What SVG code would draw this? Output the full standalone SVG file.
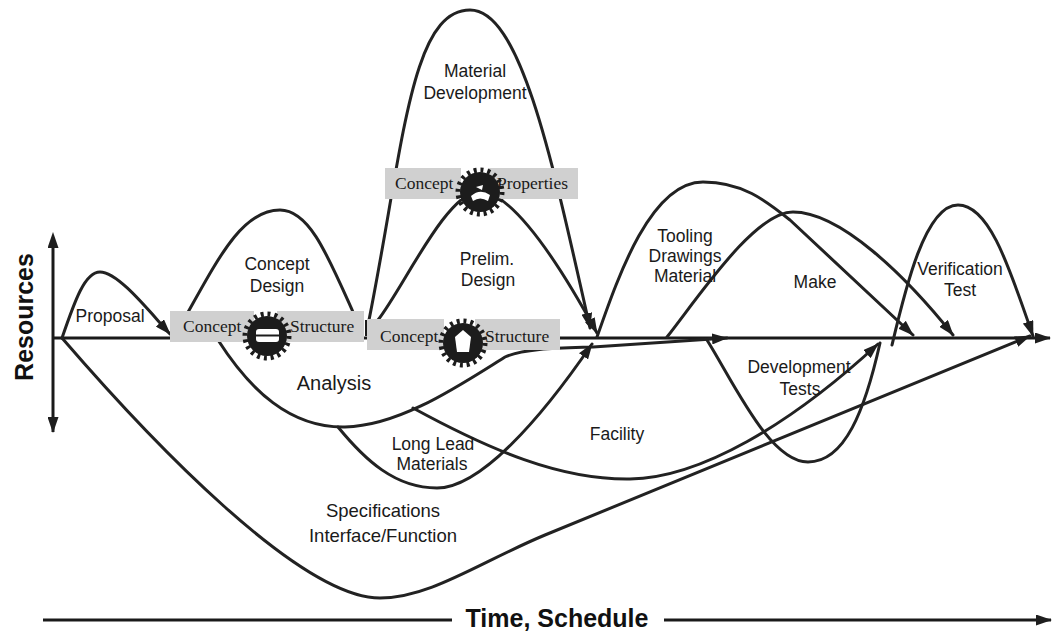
<svg xmlns="http://www.w3.org/2000/svg" xmlns:xlink="http://www.w3.org/1999/xlink" width="1052" height="631" viewBox="0 0 1052 631">
<style>
.c{fill:none;stroke:#222;stroke-width:3;stroke-linecap:round;stroke-linejoin:round}
.ln{fill:none;stroke:#1a1a1a;stroke-width:3}
.lbl{font-family:"Liberation Sans",Arial,sans-serif;font-size:17.5px;fill:#1a1a1a;text-anchor:middle}
.box{fill:#d0d0d0}
.bt{font-family:"Liberation Serif","Times New Roman",serif;font-size:17.5px;fill:#1a1a1a}
.ax{font-family:"Liberation Sans",Arial,sans-serif;font-weight:bold;font-size:25px;fill:#111;text-anchor:middle}
.gin{fill:#fff}
</style>
<defs>
<marker id="ah" viewBox="0 0 16 11" refX="15" refY="5.5" markerWidth="16" markerHeight="11" orient="auto" markerUnits="userSpaceOnUse">
<path d="M0,0 L16,5.5 L0,11 z" fill="#1e1e1e"/>
</marker>
<marker id="ahs" viewBox="0 0 16 11" refX="1" refY="5.5" markerWidth="16" markerHeight="11" orient="auto-start-reverse" markerUnits="userSpaceOnUse">
<path d="M0,0 L16,5.5 L0,11 z" fill="#1e1e1e"/>
</marker>
<g id="gear">
<circle r="20" fill="#1c1c1c"/>
<circle r="22" fill="none" stroke="#1c1c1c" stroke-width="5" stroke-dasharray="3 3.9"/>
</g>
</defs>
<rect width="1052" height="631" fill="#fff"/>

<g id="axes">
<line class="ln" x1="53" y1="247" x2="53" y2="432" marker-start="url(#ahs)" marker-end="url(#ah)"/>
<line class="ln" x1="53" y1="338" x2="1050" y2="338" marker-end="url(#ah)"/>
<text class="ax" transform="translate(33,317) rotate(-90)">Resources</text>
<line class="ln" x1="43" y1="620" x2="452" y2="620"/>
<line class="ln" x1="664" y1="620" x2="1051" y2="620" marker-end="url(#ah)"/>
<text class="ax" x="557" y="627">Time, Schedule</text>
</g>

<g id="connectors">
<path class="c" d="M62,338 C75,300 85,272 100,272 C118,272 148,310 170,334" marker-end="url(#ah)"/>
<path class="c" d="M187,314 C219.5,256 242.8,210 280,210 C309.2,210 327.5,255 353,312"/>
<path class="c" d="M367,330 C403,154 409,10 470,10 C520,10 551,154 590,328" marker-end="url(#ah)"/>
<path class="c" d="M378,320 C405,285 445,195 480,190 C515,195 560,265 597,333" marker-end="url(#ah)"/>
<path class="c" d="M218,340 C250,390 290,428 345,427 C400,426 460,385 505,357 C525,348 560,348 593,347 L727,338" marker-end="url(#ah)"/>
<path class="c" d="M338,427 C365,460 395,488 437,488 C480,488 540,420 592,344" marker-end="url(#ah)"/>
<path class="c" d="M413,408 C490,450 560,480 630,479 C700,478 790,425 878,344" marker-end="url(#ah)"/>
<path class="c" d="M62,338 C150,440 300,598 380,598 C430,598 480,562 545,535 L1030,336" marker-end="url(#ah)"/>
<path class="c" d="M597,337 C617,280 650,182 703,182 C742,182 765,200 790,220 L913,335" marker-end="url(#ah)"/>
<path class="c" d="M667,337 C700,295 755,212 793,212 C840,212 905,275 953,335" marker-end="url(#ah)"/>
<path class="c" d="M707,340 C735,385 770,462 808,462 C845,462 865,410 880,343"/>
<path class="c" d="M892,345 C905,290 925,205 958,205 C990,205 1010,270 1033,336" marker-end="url(#ah)"/>
</g>

<g id="concept-structure-1">
<rect class="box" x="170" y="311" width="84" height="31"/>
<text class="bt" x="183" y="332">Concept</text>
<rect class="box" x="277" y="311" width="87" height="31"/>
<text class="bt" x="290" y="332">Structure</text>
<use xlink:href="#gear" x="267" y="336"/>
<rect class="gin" x="256" y="329" width="23" height="13" rx="3"/>
<line x1="255" y1="335.5" x2="280" y2="335.5" stroke="#1c1c1c" stroke-width="2"/>
<line x1="366" y1="320" x2="366" y2="336" stroke="#1a1a1a" stroke-width="2"/>
</g>

<g id="concept-structure-2">
<rect class="box" x="367" y="319" width="77" height="31"/>
<text class="bt" x="380" y="342">Concept</text>
<rect class="box" x="475" y="319" width="85" height="31"/>
<text class="bt" x="485" y="342">Structure</text>
<use xlink:href="#gear" x="463" y="343"/>
<polygon class="gin" points="455,337 463,330 471,337 469,352 457,352"/>
</g>

<g id="concept-properties">
<rect class="box" x="385" y="168" width="76" height="31"/>
<text class="bt" x="395" y="189">Concept</text>
<rect class="box" x="488" y="168" width="90" height="31"/>
<text class="bt" x="497" y="189">Properties</text>
<use xlink:href="#gear" x="480" y="192"/>
<path class="gin" d="M471,196 Q480,188 490,195 L488,201 Q480,196 473,201 z"/>
<path class="gin" d="M476,187 L483,185 L482,190 z"/>
</g>

<g id="proposal"><text class="lbl" x="110" y="322">Proposal</text></g>
<g id="concept-design"><text class="lbl" x="277" y="270">Concept</text><text class="lbl" x="277" y="292">Design</text></g>
<g id="material-development"><text class="lbl" x="475" y="77">Material</text><text class="lbl" x="475" y="99">Development</text></g>
<g id="prelim-design"><text class="lbl" x="487" y="265">Prelim.</text><text class="lbl" x="488" y="286">Design</text></g>
<g id="analysis"><text class="lbl" x="334" y="390" style="font-size:20px">Analysis</text></g>
<g id="long-lead"><text class="lbl" x="433" y="450">Long Lead</text><text class="lbl" x="432" y="470">Materials</text></g>
<g id="facility"><text class="lbl" x="617" y="440">Facility</text></g>
<g id="specifications"><text class="lbl" x="383" y="517" style="font-size:18.5px">Specifications</text><text class="lbl" x="383" y="542" style="font-size:18.5px">Interface/Function</text></g>
<g id="tooling"><text class="lbl" x="685" y="242">Tooling</text><text class="lbl" x="685" y="262">Drawings</text><text class="lbl" x="685" y="282">Material</text></g>
<g id="make"><text class="lbl" x="815" y="288">Make</text></g>
<g id="development-tests"><text class="lbl" x="799" y="373">Development</text><text class="lbl" x="800" y="395">Tests</text></g>
<g id="verification-test"><text class="lbl" x="960" y="275">Verification</text><text class="lbl" x="960" y="296">Test</text></g>
</svg>
